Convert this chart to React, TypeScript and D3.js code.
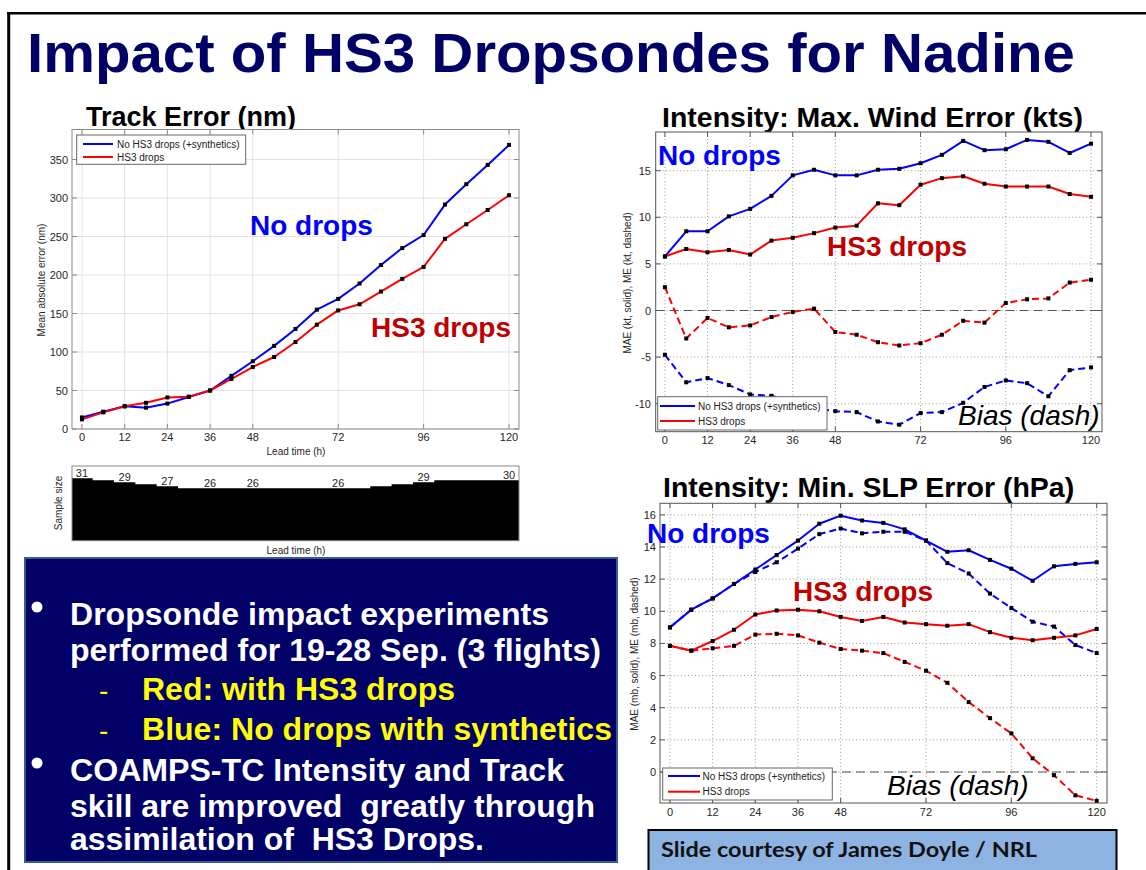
import React from 'react';
import * as d3 from 'd3';

const leadTimes = [0, 6, 12, 18, 24, 30, 36, 42, 48, 54, 60, 66, 72, 78, 84, 90, 96, 102, 108, 114, 120];
const xTickValues = [0, 12, 24, 36, 48, 72, 96, 120];

const trackNoDrops = [15, 22.5, 29.5, 27.7, 33, 41.6, 50, 69, 88, 108, 130, 155, 169, 189, 213, 235, 252, 291.5, 318, 343, 369];
const trackHS3 = [12.5, 21.6, 29.5, 34, 41, 42, 50, 65, 80.5, 93.5, 113, 135.5, 154, 162, 178.5, 195, 210.5, 247, 266, 284.5, 303.6];
const trackYTicks = [0, 50, 100, 150, 200, 250, 300, 350];

const sampleSize = [31, 30, 29, 28, 27, 26, 26, 26, 26, 26, 26, 26, 26, 26, 27, 28, 29, 30, 30, 30, 30];
const sampleLabelLeads = [0, 12, 24, 36, 48, 72, 96, 120];

const windNoDropsMAE = [5.8, 8.5, 8.5, 10.1, 10.9, 12.3, 14.5, 15.1, 14.5, 14.5, 15.1, 15.2, 15.8, 16.7, 18.2, 17.2, 17.3, 18.3, 18.1, 16.9, 17.9];
const windHS3MAE = [5.8, 6.6, 6.25, 6.5, 6.0, 7.5, 7.8, 8.3, 8.9, 9.1, 11.5, 11.3, 13.5, 14.2, 14.4, 13.6, 13.3, 13.3, 13.3, 12.5, 12.2];
const windNoDropsME = [-4.75, -7.7, -7.25, -8.0, -9.0, -9.15, -9.8, -10.5, -10.8, -10.9, -11.9, -12.25, -11.0, -10.9, -9.9, -8.2, -7.5, -7.8, -9.2, -6.4, -6.1];
const windHS3ME = [2.5, -3.0, -0.8, -1.8, -1.6, -0.7, -0.15, 0.2, -2.3, -2.6, -3.4, -3.75, -3.5, -2.6, -1.1, -1.3, 0.8, 1.2, 1.3, 3.0, 3.3];
const windYTicks = [-10, -5, 0, 5, 10, 15];

const slpNoDropsMAE = [9.0, 10.1, 10.8, 11.7, 12.6, 13.5, 14.4, 15.45, 15.95, 15.65, 15.5, 15.1, 14.4, 13.7, 13.8, 13.2, 12.65, 11.9, 12.8, 12.95, 13.05];
const slpNoDropsME = [9.0, 10.1, 10.8, 11.7, 12.45, 13.05, 13.9, 14.8, 15.15, 14.85, 14.95, 14.95, 14.4, 13.0, 12.35, 11.1, 10.2, 9.35, 9.05, 7.9, 7.4];
const slpHS3MAE = [7.85, 7.55, 8.15, 8.85, 9.8, 10.05, 10.1, 10.0, 9.65, 9.4, 9.65, 9.3, 9.2, 9.1, 9.2, 8.7, 8.35, 8.2, 8.35, 8.5, 8.9];
const slpHS3ME = [7.85, 7.55, 7.7, 7.85, 8.55, 8.6, 8.5, 8.05, 7.65, 7.55, 7.4, 6.85, 6.3, 5.55, 4.35, 3.35, 2.4, 0.85, -0.2, -1.45, -1.8];
const slpYTicks = [0, 2, 4, 6, 8, 10, 12, 14, 16];

const legendLabels = ['No HS3 drops (+synthetics)', 'HS3 drops'];
const bulletLines = [
  'Dropsonde impact experiments',
  'performed for 19-28 Sep. (3 flights)',
  'Red: with HS3 drops',
  'Blue: No drops with synthetics',
  'COAMPS-TC Intensity and Track',
  'skill are improved  greatly through',
  'assimilation of  HS3 Drops.',
];

const BLUE = '#0000ff';
const RED = '#ff0000';
const DARKRED = '#c00000';
const NAVY = '#000066';
const FONT = '"Liberation Sans", Arial, Helvetica, sans-serif';

type Series = { values: number[]; color: string; dashed?: boolean };

type ChartProps = {
  left: number; right: number; top: number; bottom: number;
  xDomain: [number, number]; yDomain: [number, number];
  yTicks: number[];
  series: Series[];
  dotted: boolean;
  zeroLine: boolean;
  frameColor: string;
  yLabel: string; yLabelX: number; yLabelY: number;
  xTickBaseline: number; yTickRight: number;
  legend: { x: number; y: number; w: number; h: number; lx1: number; lx2: number; tx: number; rows: [number, number] };
};

function LineChart(p: ChartProps) {
  const x = d3.scaleLinear().domain(p.xDomain).range([p.left, p.right]);
  const y = d3.scaleLinear().domain(p.yDomain).range([p.bottom, p.top]);
  const line = d3.line<number>().x((_, i) => x(leadTimes[i])).y((d) => y(d));
  const gridColor = p.dotted ? '#9a9a9a' : '#e3e3e3';
  const gridDash = p.dotted ? '1,2.5' : undefined;
  const tl = 5;
  return (
    <g>
      <rect x={p.left} y={p.top} width={p.right - p.left} height={p.bottom - p.top} fill="#fff" />
      {xTickValues.map((t) => (
        <line key={'gx' + t} x1={x(t)} x2={x(t)} y1={p.top} y2={p.bottom} stroke={gridColor} strokeDasharray={gridDash} strokeWidth={1} />
      ))}
      {p.yTicks.map((t) => (
        <line key={'gy' + t} x1={p.left} x2={p.right} y1={y(t)} y2={y(t)} stroke={gridColor} strokeDasharray={gridDash} strokeWidth={1} />
      ))}
      {p.zeroLine && (
        <line x1={p.left} x2={p.right} y1={y(0)} y2={y(0)} stroke="#555" strokeDasharray="9,5" strokeWidth={1.2} />
      )}
      {xTickValues.map((t) => (
        <g key={'tx' + t}>
          <line x1={x(t)} x2={x(t)} y1={p.bottom} y2={p.bottom - tl} stroke={p.frameColor} />
          <line x1={x(t)} x2={x(t)} y1={p.top} y2={p.top + tl} stroke={p.frameColor} />
          <text x={x(t)} y={p.xTickBaseline} fontSize={11} fill="#262626" textAnchor="middle" fontFamily={FONT}>{t}</text>
        </g>
      ))}
      {p.yTicks.map((t) => (
        <g key={'ty' + t}>
          <line x1={p.left} x2={p.left + tl} y1={y(t)} y2={y(t)} stroke={p.frameColor} />
          <line x1={p.right} x2={p.right - tl} y1={y(t)} y2={y(t)} stroke={p.frameColor} />
          <text x={p.yTickRight} y={y(t) + 4} fontSize={11} fill="#262626" textAnchor="end" fontFamily={FONT}>{t}</text>
        </g>
      ))}
      {p.series.map((s, i) => (
        <path key={'s' + i} d={line(s.values) || ''} fill="none" stroke={s.color} strokeWidth={2}
          strokeDasharray={s.dashed ? '7,4' : undefined} strokeLinejoin="round" />
      ))}
      {p.series.map((s, i) => (
        <g key={'m' + i}>
          {s.values.map((v, j) => (
            <rect key={j} x={x(leadTimes[j]) - 2} y={y(v) - 2} width={4} height={4} fill="#000" />
          ))}
        </g>
      ))}
      <rect x={p.left} y={p.top} width={p.right - p.left} height={p.bottom - p.top} fill="none" stroke={p.frameColor} strokeWidth={1} />
      <text transform={`translate(${p.yLabelX},${p.yLabelY}) rotate(-90)`} fontSize={10} fill="#262626" textAnchor="middle" fontFamily={FONT}>{p.yLabel}</text>
      <rect x={p.legend.x} y={p.legend.y} width={p.legend.w} height={p.legend.h} fill="#fff" stroke="#666" strokeWidth={1} />
      {legendLabels.map((lab, i) => (
        <g key={'lg' + i}>
          <line x1={p.legend.lx1} x2={p.legend.lx2} y1={p.legend.rows[i]} y2={p.legend.rows[i]} stroke={i === 0 ? BLUE : RED} strokeWidth={2} />
          <text x={p.legend.tx} y={p.legend.rows[i] + 3.5} fontSize={10} fill="#222" fontFamily={FONT}>{lab}</text>
        </g>
      ))}
    </g>
  );
}

function SampleChart() {
  const left = 72, right = 519, top = 466, bottom = 540.7;
  const x = d3.scaleLinear().domain([-2.8, 122.8]).range([left, right]);
  const y = d3.scaleLinear().domain([0, 37.1]).range([bottom, top]);
  const pts: [number, number][] = [[-2.8, sampleSize[0]], ...leadTimes.map((t, i) => [t, sampleSize[i]] as [number, number]), [122.8, sampleSize[sampleSize.length - 1]]];
  const area = d3.area<[number, number]>().x((d) => x(d[0])).y0(bottom).y1((d) => y(d[1])).curve(d3.curveStep);
  return (
    <g>
      <rect x={left} y={top} width={right - left} height={bottom - top} fill="#fff" />
      <path d={area(pts) || ''} fill="#000" />
      <rect x={left} y={top} width={right - left} height={bottom - top} fill="none" stroke="#888" strokeWidth={1} />
      {sampleLabelLeads.map((t) => {
        const v = sampleSize[leadTimes.indexOf(t)];
        return (
          <text key={t} x={x(t)} y={y(v) - 1.5} fontSize={11} fill="#262626" textAnchor="middle" fontFamily={FONT}>{v}</text>
        );
      })}
      <text transform={`translate(62,503) rotate(-90)`} fontSize={10} fill="#262626" textAnchor="middle" fontFamily={FONT}>Sample size</text>
      <text x={296} y={554} fontSize={10} fill="#262626" textAnchor="middle" fontFamily={FONT}>Lead time (h)</text>
    </g>
  );
}

const pre = { whiteSpace: 'pre' as const };

export default function App() {
  return (
    <svg width={1146} height={870} style={{ position: 'absolute', left: 0, top: 0, background: '#fff' }} fontFamily={FONT}>
      <rect x={0} y={0} width={1146} height={870} fill="#fff" />
      <line x1={7} x2={1146} y1={13.3} y2={13.3} stroke="#000" strokeWidth={2.6} />
      <line x1={8.7} x2={8.7} y1={12} y2={870} stroke="#000" strokeWidth={3} />

      <text x={27} y={72} fontSize={56} fontWeight="bold" fill={NAVY} textLength={1048} lengthAdjust="spacingAndGlyphs">Impact of HS3 Dropsondes for Nadine</text>

      {/* Track error */}
      <text x={86} y={126} fontSize={27} fontWeight="bold" fill="#000">Track Error (nm)</text>
      <LineChart
        left={72} right={519} top={129.5} bottom={429}
        xDomain={[-2.8, 122.8]} yDomain={[0, 389]}
        yTicks={trackYTicks}
        series={[{ values: trackNoDrops, color: BLUE }, { values: trackHS3, color: RED }]}
        dotted={false} zeroLine={false} frameColor="#8a8a8a"
        yLabel="Mean absolute error (nm)" yLabelX={45} yLabelY={280}
        xTickBaseline={441} yTickRight={68}
        legend={{ x: 76.7, y: 135, w: 169, h: 29.3, lx1: 83, lx2: 113, tx: 117, rows: [144, 157] }}
      />
      <text x={296} y={455} fontSize={10} fill="#262626" textAnchor="middle">Lead time (h)</text>
      <text x={250} y={235} fontSize={28} fontWeight="bold" fill={BLUE}>No drops</text>
      <text x={371} y={337} fontSize={28} fontWeight="bold" fill={DARKRED}>HS3 drops</text>

      <SampleChart />

      {/* Max wind */}
      <text x={662} y={127} fontSize={28.5} fontWeight="bold" fill="#000">Intensity: Max. Wind Error (kts)</text>
      <LineChart
        left={655.7} right={1102} top={132} bottom={431.7}
        xDomain={[-2.6, 123.1]} yDomain={[-13, 19.15]}
        yTicks={windYTicks}
        series={[
          { values: windNoDropsMAE, color: BLUE },
          { values: windHS3MAE, color: RED },
          { values: windNoDropsME, color: BLUE, dashed: true },
          { values: windHS3ME, color: RED, dashed: true },
        ]}
        dotted={true} zeroLine={true} frameColor="#555"
        yLabel="MAE (kt, solid), ME (kt, dashed)" yLabelX={631} yLabelY={283}
        xTickBaseline={444} yTickRight={651}
        legend={{ x: 657.7, y: 396.7, w: 169.3, h: 33.3, lx1: 660, lx2: 695, tx: 698, rows: [406, 421] }}
      />
      <text x={658} y={165} fontSize={28} fontWeight="bold" fill={BLUE}>No drops</text>
      <text x={827} y={256} fontSize={28} fontWeight="bold" fill={DARKRED}>HS3 drops</text>
      <text x={958} y={425} fontSize={28} fontStyle="italic" fill="#000">Bias (dash)</text>

      {/* Min SLP */}
      <text x={663} y={497} fontSize={28.5} fontWeight="bold" fill="#000">Intensity: Min. SLP Error (hPa)</text>
      <LineChart
        left={660} right={1107} top={503.3} bottom={803}
        xDomain={[-2.8, 122.9]} yDomain={[-1.93, 16.72]}
        yTicks={slpYTicks}
        series={[
          { values: slpNoDropsMAE, color: BLUE },
          { values: slpHS3MAE, color: RED },
          { values: slpNoDropsME, color: BLUE, dashed: true },
          { values: slpHS3ME, color: RED, dashed: true },
        ]}
        dotted={true} zeroLine={true} frameColor="#555"
        yLabel="MAE (mb, solid), ME (mb, dashed)" yLabelX={638} yLabelY={654}
        xTickBaseline={815.5} yTickRight={656}
        legend={{ x: 662.7, y: 768, w: 169.6, h: 32, lx1: 668, lx2: 700, tx: 702.5, rows: [776, 791.7] }}
      />
      <text x={647} y={543} fontSize={28} fontWeight="bold" fill={BLUE}>No drops</text>
      <text x={793} y={601} fontSize={28} fontWeight="bold" fill={DARKRED}>HS3 drops</text>
      <text x={887} y={795} fontSize={28} fontStyle="italic" fill="#000">Bias (dash)</text>

      {/* Text box */}
      <rect x={25} y={558} width={592} height={304} fill={NAVY} stroke="#385d8a" strokeWidth={2} />
      <circle cx={37} cy={607} r={5.5} fill="#fff" />
      <circle cx={37} cy={763} r={5.5} fill="#fff" />
      <text x={70} y={625} fontSize={31} fontWeight="bold" fill="#fff" textLength={479} lengthAdjust="spacingAndGlyphs">{bulletLines[0]}</text>
      <text x={70} y={661} fontSize={31} fontWeight="bold" fill="#fff" textLength={531} lengthAdjust="spacingAndGlyphs">{bulletLines[1]}</text>
      <text x={99} y={700} fontSize={28} fill="#ffff00">-</text>
      <text x={142} y={700} fontSize={31} fontWeight="bold" fill="#ffff00" textLength={313} lengthAdjust="spacingAndGlyphs">{bulletLines[2]}</text>
      <text x={99} y={740} fontSize={28} fill="#ffff00">-</text>
      <text x={142} y={740} fontSize={31} fontWeight="bold" fill="#ffff00" textLength={470} lengthAdjust="spacingAndGlyphs">{bulletLines[3]}</text>
      <text x={70} y={781} fontSize={31} fontWeight="bold" fill="#fff" textLength={494} lengthAdjust="spacingAndGlyphs">{bulletLines[4]}</text>
      <text x={70} y={817} fontSize={31} fontWeight="bold" fill="#fff" textLength={525} lengthAdjust="spacingAndGlyphs" style={pre}>{bulletLines[5]}</text>
      <text x={70} y={850} fontSize={31} fontWeight="bold" fill="#fff" textLength={414} lengthAdjust="spacingAndGlyphs" style={pre}>{bulletLines[6]}</text>

      {/* Courtesy box */}
      <rect x={648.5} y={830} width={468} height={45} fill="#8db3e2" stroke="#000" strokeWidth={2} />
      <text x={661} y={857} fontSize={20} fontWeight="bold" fill="#111" fontFamily='Lato, "Open Sans", sans-serif' textLength={376} lengthAdjust="spacingAndGlyphs">Slide courtesy of James Doyle / NRL</text>
    </svg>
  );
}
